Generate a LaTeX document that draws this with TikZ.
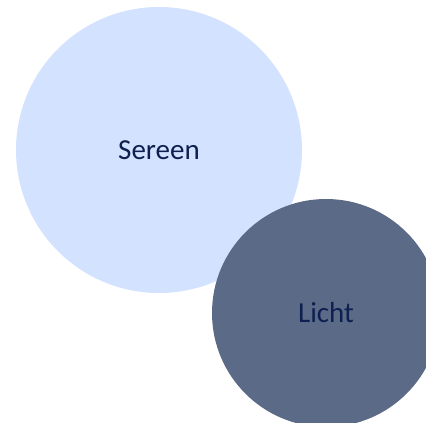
\documentclass[tikz,border=0pt]{standalone}
\usepackage{fontspec}
\setmainfont{Carlito}
\definecolor{lightc}{RGB}{211,226,254}
\definecolor{darkc}{RGB}{91,106,135}
\definecolor{txtc}{RGB}{14,32,80}
\begin{document}
\begin{tikzpicture}[x=1pt,y=-1pt,
  bubble/.style={circle,inner sep=0pt,text=txtc,font=\fontsize{29}{34}\selectfont}]
\useasboundingbox (0,0) rectangle (426,423);
\clip (0,0) rectangle (426,423);
\node[bubble,fill=lightc,minimum size=286pt] (sereen) at (159,150) {Sereen};
\node[bubble,fill=darkc,minimum size=228pt] (licht) at (326,313) {Licht};
\end{tikzpicture}
\end{document}
